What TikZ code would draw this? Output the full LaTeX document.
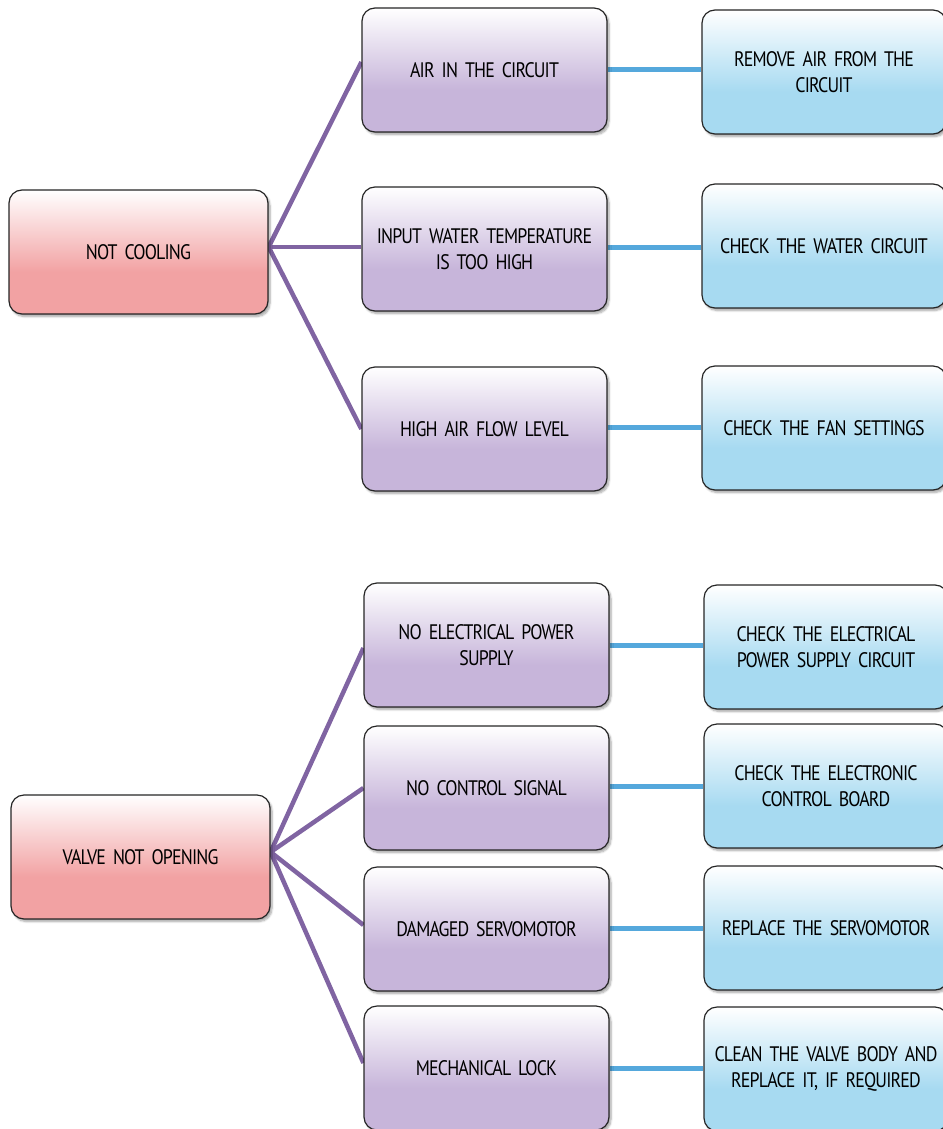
\documentclass[tikz,border=0pt]{standalone}
\usepackage{fontspec}
\setmainfont[FakeStretch=0.85, LetterSpace=-4]{PT Sans}
\usetikzlibrary{shadows.blur,backgrounds}

\definecolor{causecol}{HTML}{F2A2A3}
\definecolor{reasoncol}{HTML}{C7B5DA}
\definecolor{fixcol}{HTML}{A7DAF1}
\definecolor{branchcol}{HTML}{8064A2}
\definecolor{linkcol}{HTML}{55A8DC}

% white at the top, fading into the solid colour over the upper part
\pgfdeclareverticalshading{causefade}{100bp}{color(0bp)=(causecol); color(25bp)=(causecol); color(42bp)=(causecol); color(75bp)=(white); color(100bp)=(white)}
\pgfdeclareverticalshading{reasonfade}{100bp}{color(0bp)=(reasoncol); color(25bp)=(reasoncol); color(42bp)=(reasoncol); color(75bp)=(white); color(100bp)=(white)}
\pgfdeclareverticalshading{fixfade}{100bp}{color(0bp)=(fixcol); color(25bp)=(fixcol); color(42bp)=(fixcol); color(75bp)=(white); color(100bp)=(white)}

% tight word spacing for the box labels
\newcommand\labelfont{\fontsize{21}{26}\selectfont\spaceskip=3.4pt plus 1pt minus 0.5pt\relax}

\tikzset{
  card/.style={draw=black!85, line width=1.2pt, rounded corners=13pt,
    minimum height=124pt, inner sep=0pt, align=center, font=\labelfont,
    blur shadow={shadow xshift=2pt, shadow yshift=-2.5pt, shadow blur steps=6, shadow opacity=35}},
  causebox/.style={card, minimum width=259pt, text width=255pt, shading=causefade},
  reasonbox/.style={card, minimum width=245pt, text width=241pt, shading=reasonfade},
  fixbox/.style={card, minimum width=244pt, text width=240pt, shading=fixfade},
  branch/.style={draw=branchcol, line width=4.5pt},
  link/.style={draw=linkcol, line width=5pt}
}

\begin{document}
\begin{tikzpicture}[x=1pt, y=-1pt]
\useasboundingbox (0,0) rectangle (942,1129);

% first fault: not cooling
\node[causebox] (nc) at (138.5,252) {NOT COOLING};
\node[reasonbox] (m1) at (484.5,70) {AIR IN THE CIRCUIT};
\node[reasonbox] (m2) at (484.5,249) {INPUT WATER TEMPERATURE\\IS TOO HIGH};
\node[reasonbox] (m3) at (484.5,429) {HIGH AIR FLOW LEVEL};
\node[fixbox] (r1) at (824,72) {REMOVE AIR FROM THE\\CIRCUIT};
\node[fixbox] (r2) at (824,246) {CHECK THE WATER CIRCUIT};
\node[fixbox] (r3) at (824,428) {CHECK THE FAN SETTINGS};

% second fault: valve not opening
\node[causebox] (vn) at (140.5,857) {VALVE NOT OPENING};
\node[reasonbox] (n1) at (486.5,645) {NO ELECTRICAL POWER\\SUPPLY};
\node[reasonbox] (n2) at (486.5,788) {NO CONTROL SIGNAL};
\node[reasonbox] (n3) at (486.5,929) {DAMAGED SERVOMOTOR};
\node[reasonbox] (n4) at (486.5,1068) {MECHANICAL LOCK};
\node[fixbox] (f1) at (826,647) {CHECK THE ELECTRICAL\\POWER SUPPLY CIRCUIT};
\node[fixbox] (f2) at (826,786) {CHECK THE ELECTRONIC\\CONTROL BOARD};
\node[fixbox] (f3) at (826,928) {REPLACE THE SERVOMOTOR};
\node[fixbox] (f4) at (826,1069) {CLEAN THE VALVE BODY AND\\REPLACE IT, IF REQUIRED};

\begin{pgfonlayer}{background}
  % branches from each fault to its possible causes
  \draw[branch] ([yshift=5pt]nc.east) -- ([yshift=8pt]m1.west);
  \draw[branch] ([yshift=5pt]nc.east) -- ([yshift=2pt]m2.west);
  \draw[branch] ([yshift=5pt]nc.east) -- (m3.west);
  \draw[branch] ([yshift=5pt]vn.east) -- ([yshift=-3pt]n1.west);
  \draw[branch] ([yshift=5pt]vn.east) -- (n2.west);
  \draw[branch] ([yshift=5pt]vn.east) -- ([yshift=4pt]n3.west);
  \draw[branch] ([yshift=5pt]vn.east) -- ([yshift=5pt]n4.west);
  % each cause linked to its remedy
  \draw[link] (m1.east) -- (m1.east -| r1.west);
  \draw[link] ([yshift=2pt]m2.east) -- ([yshift=2pt]m2.east -| r2.west);
  \draw[link] ([yshift=2pt]m3.east) -- ([yshift=2pt]m3.east -| r3.west);
  \draw[link] (n1.east) -- (n1.east -| f1.west);
  \draw[link] ([yshift=2pt]n2.east) -- ([yshift=2pt]n2.east -| f2.west);
  \draw[link] ([yshift=1pt]n3.east) -- ([yshift=1pt]n3.east -| f3.west);
  \draw[link] (n4.east) -- (n4.east -| f4.west);
\end{pgfonlayer}
\end{tikzpicture}
\end{document}
